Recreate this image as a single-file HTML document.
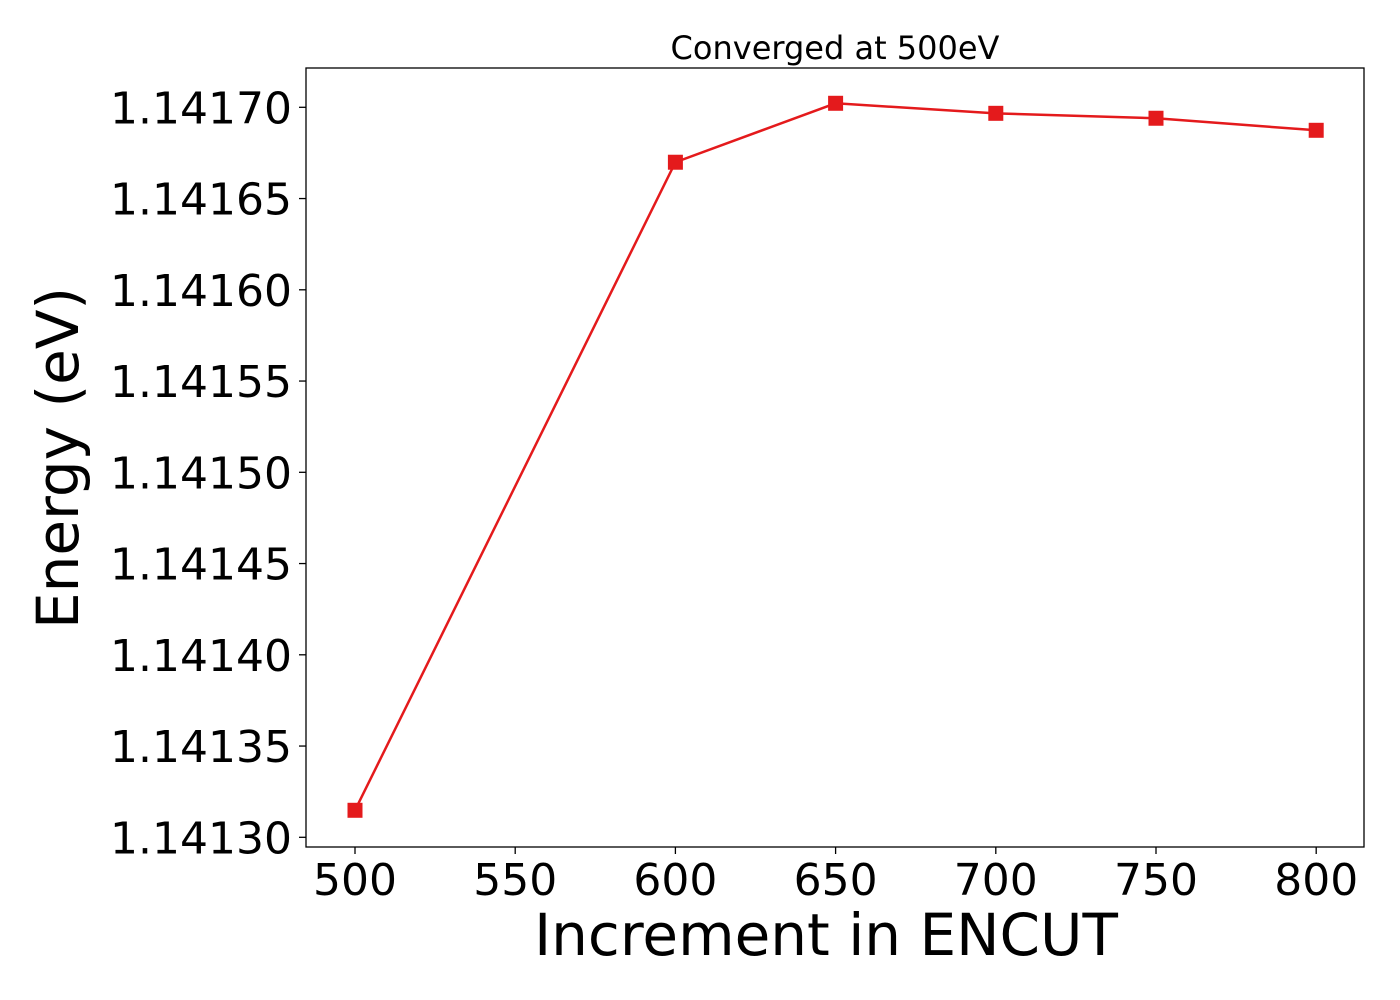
<!DOCTYPE html>
<html><head><meta charset="utf-8"><style>
body{margin:0;background:#fff;}
svg{display:block;font-family:"DejaVu Sans","Liberation Sans",sans-serif;}
</style></head><body>
<svg id="chart" width="1400" height="1000">
<rect x="0" y="0" width="1400" height="1000" fill="#fff"/>
<g id="ticks"></g>
<g id="series"></g>
<rect x="306" y="68" width="1058" height="779" fill="none" stroke="#000" stroke-width="1.3"/>
<text x="835" y="59" font-size="32" text-anchor="middle">Converged at 500eV</text>
<text x="826" y="955" font-size="58" text-anchor="middle">Increment in ENCUT</text>
<text transform="translate(78,458) rotate(-90)" font-size="58" text-anchor="middle">Energy (eV)</text>
</svg>
<script>
const xValues = [500, 600, 650, 700, 750, 800];
const energies = [1.1413148, 1.1416699, 1.1417022, 1.1416967, 1.1416940, 1.1416874];
const xTicks = [500, 550, 600, 650, 700, 750, 800];
const yTicks = [1.14130, 1.14135, 1.14140, 1.14145, 1.14150, 1.14155, 1.14160, 1.14165, 1.14170];
const NS = "http://www.w3.org/2000/svg";
function sx(v){ return 355 + (v - 500) * (160.2 / 50); }
function sy(v){ return 837.3 - (v - 1.14130) * (91.25 / 0.00005); }
const tg = document.getElementById('ticks');
xTicks.forEach(t => {
  const l = document.createElementNS(NS, 'line');
  l.setAttribute('x1', sx(t)); l.setAttribute('x2', sx(t));
  l.setAttribute('y1', 847); l.setAttribute('y2', 854);
  l.setAttribute('stroke', '#000'); l.setAttribute('stroke-width', '1.3');
  
  
  tg.appendChild(l);
  const tx = document.createElementNS(NS, 'text');
  tx.setAttribute('x', sx(t)); tx.setAttribute('y', 895);
  tx.setAttribute('font-size', '44'); tx.setAttribute('text-anchor', 'middle');
  tx.textContent = t;
  
  
  tg.appendChild(tx);
});
yTicks.forEach(t => {
  const l = document.createElementNS(NS, 'line');
  l.setAttribute('x1', 299); l.setAttribute('x2', 306);
  l.setAttribute('y1', sy(t)); l.setAttribute('y2', sy(t));
  l.setAttribute('stroke', '#000'); l.setAttribute('stroke-width', '1.3');
  
  
  tg.appendChild(l);
  const tx = document.createElementNS(NS, 'text');
  tx.setAttribute('x', 292); tx.setAttribute('y', sy(t) + 16);
  tx.setAttribute('font-size', '44'); tx.setAttribute('text-anchor', 'end');
  tx.textContent = t.toFixed(5);
  
  
  tg.appendChild(tx);
});
const sg = document.getElementById('series');
const pl = document.createElementNS(NS, 'polyline');
pl.setAttribute('points', xValues.map((x, i) => sx(x) + ',' + sy(energies[i])).join(' '));
pl.setAttribute('fill', 'none'); pl.setAttribute('stroke', '#e41a1c'); pl.setAttribute('stroke-width', '2.5');


sg.appendChild(pl);
xValues.forEach((x, i) => {
  const r = document.createElementNS(NS, 'rect');
  r.setAttribute('x', sx(x) - 7.5); r.setAttribute('y', sy(energies[i]) - 7.5);
  r.setAttribute('width', 15); r.setAttribute('height', 15);
  r.setAttribute('fill', '#e41a1c');
  
  
  sg.appendChild(r);
});
</script>
</body></html>
